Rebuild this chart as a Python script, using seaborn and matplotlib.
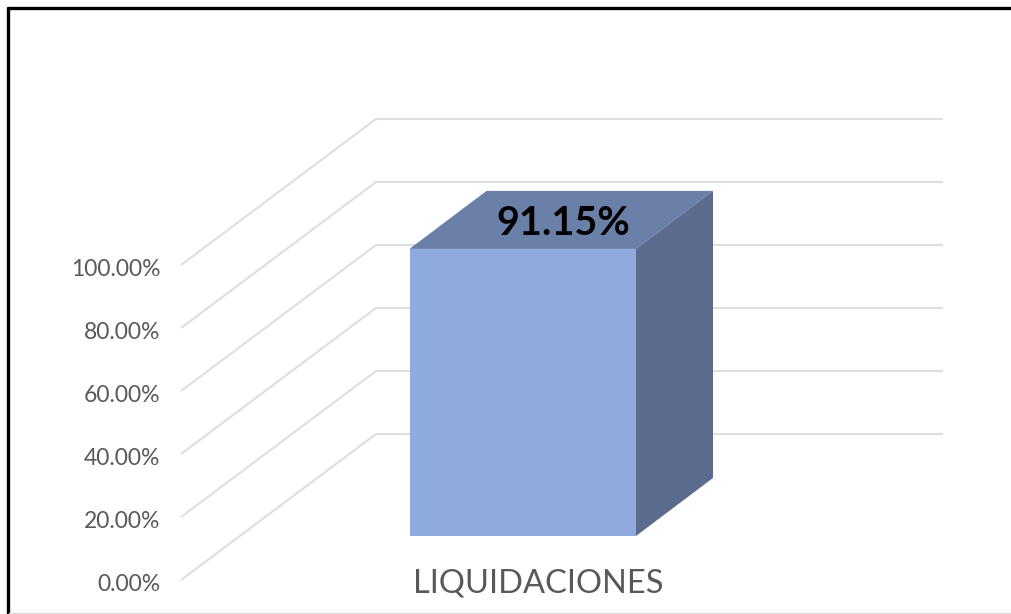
import matplotlib
matplotlib.use('Agg')
import matplotlib.pyplot as plt
import matplotlib.transforms as mtrans
import pandas as pd
import seaborn as sns
from matplotlib.lines import Line2D
from matplotlib.patches import Polygon

categorias = ['LIQUIDACIONES']
valores = [91.15]
ticks_y = [0, 20, 40, 60, 80, 100]

W, H = 1011, 614
GRIS = '#595959'

sns.set_theme(style='white')
plt.rcParams['font.family'] = ['Lato', 'DejaVu Sans']


def caja(x0, x1, y0, y1):
    # pixeles de la imagen -> fracciones de figura
    return [x0 / W, 1 - y0 / H, (x1 - x0) / W, (y0 - y1) / H]


datos = pd.DataFrame({'categoria': categorias, 'valor': valores})

fig = plt.figure(figsize=(W / 100, H / 100), dpi=100, facecolor='white')

# paredes: eje y con su rejilla en perspectiva
ax = fig.add_axes(caja(181, 943, 580, 265))
ax.set_xlim(0, 1)
ax.set_ylim(0, 100)
prof_x = 195 / 762
prof_y = 146 / 3.15
for t in ticks_y:
    ax.plot([0, prof_x, 1], [t, t + prof_y, t + prof_y], color='#DEDEDE', lw=1.5,
            clip_on=False, solid_capstyle='butt')
ax.set_yticks(ticks_y)
ax.set_yticklabels([f'{t:.2f}%' for t in ticks_y], fontsize=16.5, color=GRIS)
ax.set_xticks([(538 - 181) / 762])
ax.set_xticklabels(categorias, fontsize=23.5, color=GRIS)
ax.tick_params(axis='y', length=0, pad=15)
ax.tick_params(axis='x', length=0, pad=-8.5)
# las etiquetas del eje y van un poco por debajo de la rejilla
baja = mtrans.ScaledTranslation(0, -2 / 72, fig.dpi_scale_trans)
for lab in ax.get_yticklabels():
    lab.set_transform(lab.get_transform() + baja)
sns.despine(ax=ax, left=True, bottom=True)
ax.patch.set_alpha(0)

# la barra, con su propio eje en el plano frontal
ax2 = fig.add_axes(caja(409.5, 636, 536, 221), zorder=3)
sns.barplot(data=datos, x='categoria', y='valor', color='#8FAADC', saturation=1,
            width=1, linewidth=0, edgecolor='none', ax=ax2)
ax2.set_xlim(-0.5, 0.5)
ax2.set_ylim(0, 100)
ax2.axis('off')

barra = ax2.patches[0]
x0, x1 = barra.get_x(), barra.get_x() + barra.get_width()
alto = barra.get_height()
dx = 77 / 226.5
dy = 58 / 3.15
ax2.add_patch(Polygon([(x0, alto), (x1, alto), (x1 + dx, alto + dy), (x0 + dx, alto + dy)],
                      facecolor='#6B80A8', edgecolor='none', clip_on=False))
ax2.add_patch(Polygon([(x1, 0), (x1 + dx, dy), (x1 + dx, alto + dy), (x1, alto)],
                      facecolor='#5B6B8E', edgecolor='none', clip_on=False))
ax2.annotate(f'{valores[0]:.2f}%', (0, alto), xytext=(29, 18.5), textcoords='offset points',
             ha='center', va='center', fontsize=28.5, fontweight='bold', color='black',
             annotation_clip=False)

# marco de la imagen
fig.add_artist(Line2D([7.5 / W, 7.5 / W], [0, 1 - 7.5 / H], color='black', lw=2.4))
fig.add_artist(Line2D([7.5 / W, 1], [1 - 7.5 / H, 1 - 7.5 / H], color='black', lw=2.4))
fig.add_artist(Line2D([9 / W, 1], [1 / H, 1 / H], color='#DDDDDD', lw=1))

fig.savefig('out.png', dpi=100)
